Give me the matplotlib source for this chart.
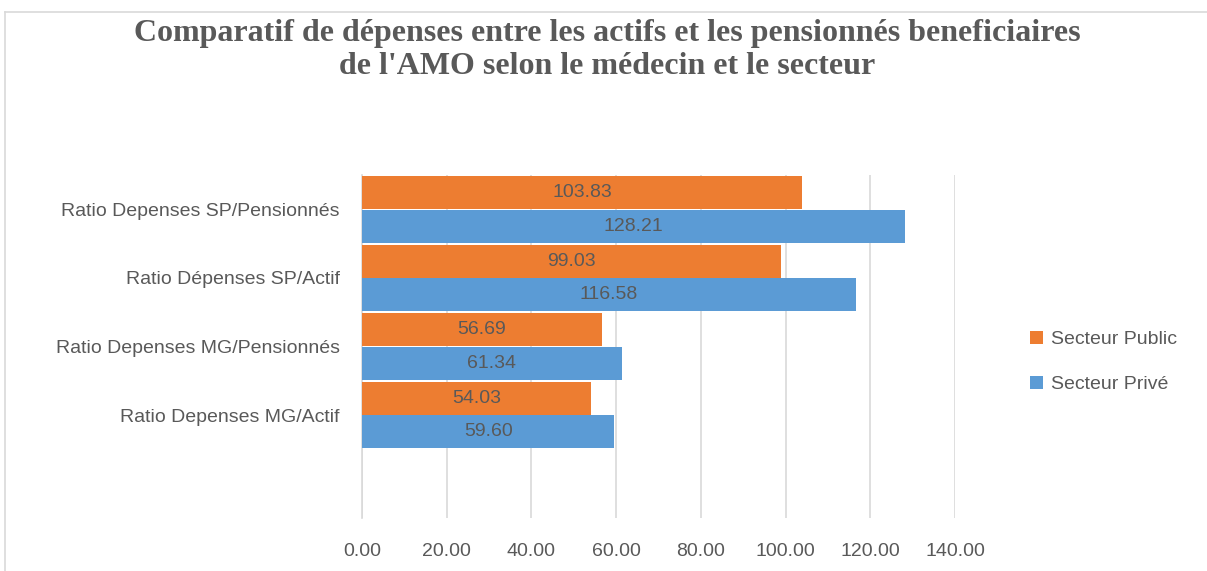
import matplotlib.pyplot as plt
from matplotlib.lines import Line2D

categories = ['Ratio Depenses SP/Pensionnés', 'Ratio Dépenses SP/Actif',
              'Ratio Depenses MG/Pensionnés', 'Ratio Depenses MG/Actif']
public = [103.83, 99.03, 56.69, 54.03]
prive = [128.21, 116.58, 61.34, 59.60]
xticks = [0, 20, 40, 60, 80, 100, 120, 140]

orange = '#ED7D31'
blue = '#5B9BD5'
txt = '#595959'

plt.rcParams['font.family'] = ['Liberation Sans', 'DejaVu Sans']

fig = plt.figure(figsize=(12.07, 5.71), dpi=100)
ax = fig.add_axes([362 / 1207, 1 - 518 / 571, (955 - 362) / 1207, (518 - 175) / 571])

# top category first, one empty slot at the bottom
ypos = [4, 3, 2, 1]
h = 0.49
ax.barh([y + h / 2 for y in ypos], public, height=h - 0.01, color=orange, label='Secteur Public', zorder=3)
ax.barh([y - h / 2 for y in ypos], prive, height=h - 0.01, color=blue, label='Secteur Privé', zorder=3)

for y, v in zip(ypos, public):
    ax.text(v / 2, y + h / 2, f'{v:.2f}', ha='center', va='center', color=txt, fontsize=14, zorder=4)
for y, v in zip(ypos, prive):
    ax.text(v / 2, y - h / 2, f'{v:.2f}', ha='center', va='center', color=txt, fontsize=14, zorder=4)

ax.set_xlim(0, 140)
ax.set_ylim(-0.5, 4.5)
ax.set_xticks(xticks)
ax.set_xticklabels([f'{t:.2f}' for t in xticks], color=txt, fontsize=14)
ax.set_yticks(ypos)
ax.set_yticklabels(categories, color=txt, fontsize=14)
ax.tick_params(length=0, pad=18, axis='x')
ax.tick_params(length=0, pad=16, axis='y')
ax.grid(axis='x', color='#D9D9D9', linewidth=1.2, zorder=0)
for s in ['top', 'right', 'bottom']:
    ax.spines[s].set_visible(False)
ax.spines['left'].set_color('#D9D9D9')
ax.spines['left'].set_linewidth(1.2)

fig.legend(loc='center left', bbox_to_anchor=(1012 / 1207, 1 - 362 / 571), frameon=False,
           fontsize=14, labelcolor=txt, handlelength=0.7, handleheight=0.7, handletextpad=0.4,
           labelspacing=1.4)

fig.text(0.503, 1 - 50 / 571, "Comparatif de dépenses entre les actifs et les pensionnés beneficiaires\nde l'AMO selon le médecin et le secteur",
         ha='center', va='center', fontsize=23, fontweight='bold', color=txt,
         family=['Liberation Serif', 'DejaVu Serif'], linespacing=1.15)

# chart border (only top and left visible in the crop)
fig.add_artist(Line2D([5 / 1207, 1], [1 - 12 / 571] * 2, color='#D9D9D9', lw=1.2, transform=fig.transFigure))
fig.add_artist(Line2D([5 / 1207] * 2, [0, 1 - 12 / 571], color='#D9D9D9', lw=1.2, transform=fig.transFigure))

fig.savefig('out.png', dpi=100)
